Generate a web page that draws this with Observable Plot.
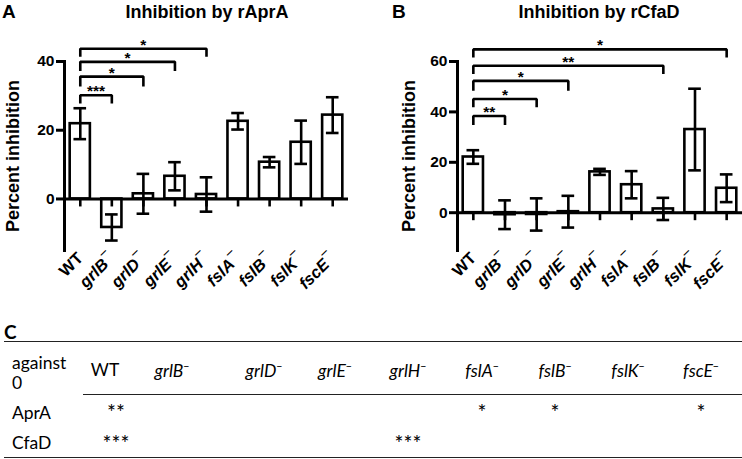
<!DOCTYPE html>
<html>
<head>
<meta charset="utf-8">
<script src="https://cdn.jsdelivr.net/npm/d3@7"></script>
<script src="https://cdn.jsdelivr.net/npm/@observablehq/plot@0.6"></script>
<style>
  html, body { margin: 0; padding: 0; background: #fff; }
  #fig { position: relative; width: 742px; height: 459px; overflow: hidden; font-family: "Liberation Sans", Arial, sans-serif; }
  .abs { position: absolute; white-space: nowrap; }
  .letter { font-weight: bold; font-size: 19px; line-height: 1; }
  .title { font-weight: bold; font-size: 18px; line-height: 1; transform: translateX(-50%); }
  .tbl { font-family: Lato, "Open Sans", sans-serif; font-size: 17.5px; line-height: 1; color: #000; }
  .star { font-size: 21px; }
  .hline { position: absolute; height: 0; border-top: 1.6px solid #222; }
  .it { font-style: italic; }
  .sup { font-size: 0.6em; vertical-align: 0.7em; font-style: normal; }
</style>
</head>
<body>
<div id="fig"></div>
<script>
// ---------- data ----------
const names = ["WT", "grlB", "grlD", "grlE", "grlH", "fslA", "fslB", "fslK", "fscE"];

// Panel A: inhibition by rAprA (mean, error)
const aprMean = [21.9, -8.3, 1.5, 6.6, 1.3, 22.6, 10.7, 16.5, 24.4];
const aprErr  = [4.5, 3.8, 5.8, 4.1, 5.0, 2.4, 1.5, 6.3, 5.2];
const aprTicks = [0, 20, 40];
const aprBrFrom  = [0, 0, 0, 0];
const aprBrTo    = [1, 2, 3, 4];
const aprBrTop   = [30.2, 35.6, 39.9, 43.7];
const aprBrLeg   = [27.8, 32.7, 37.2, 41.4];
const aprBrStars = ["***", "*", "*", "*"];

// Panel B: inhibition by rCfaD (mean, error)
const cfaMean = [22.1, -0.8, -0.7, 0.4, 16.2, 11.1, 1.5, 33.0, 9.7];
const cfaErr  = [2.7, 5.7, 6.4, 6.3, 1.2, 5.4, 4.4, 16.2, 5.5];
const cfaTicks = [0, 20, 40, 60];
const cfaBrFrom  = [0, 0, 0, 0, 0];
const cfaBrTo    = [1, 2, 3, 6, 8];
const cfaBrTop   = [38.4, 45.1, 52.3, 58.3, 64.8];
const cfaBrLeg   = [34.8, 41.8, 48.4, 55.0, 61.6];
const cfaBrStars = ["**", "*", "*", "**", "*"];

// Panel C: significance against 0
const rowLabels = ["AprA", "CfaD"];
const aprSig = ["**", "", "", "", "", "*", "*", "", "*"];
const cfaSig = ["***", "", "", "", "***", "", "", "", ""];

// ---------- drawing ----------
const fig = document.getElementById("fig");

function panel({width, marginLeft, marginRight, yDomain, yTicks, means, errs, brFrom, brTo, brTop, brLeg, brStars, labelDx}) {
  const rows = names.map((n, i) => ({i, name: n, mean: means[i], err: errs[i]}));
  const brackets = brFrom.map((f, k) => ({k, from: f, to: brTo[k], top: brTop[k], leg: brLeg[k], stars: brStars[k]}));
  const bracketPts = brackets.flatMap(b => [
    {k: b.k, x: b.from, y: b.leg}, {k: b.k, x: b.from, y: b.top},
    {k: b.k, x: b.to, y: b.top}, {k: b.k, x: b.to, y: b.leg}
  ]);
  const sw = 2.6;
  const svg = Plot.plot({
    width, height: 310,
    marginLeft, marginRight, marginTop: 61, marginBottom: 60,
    x: {type: "linear", domain: [-0.5, names.length - 0.5]},
    y: {domain: yDomain},
    style: {fontFamily: "'Liberation Sans', Arial, sans-serif", fontWeight: "bold", fontSize: "15px", color: "black", background: "white", overflow: "visible"},
    marks: [
      Plot.rectY(rows, {x1: d => d.i - 0.32, x2: d => d.i + 0.32, y1: d => 0, y2: "mean", fill: "white", stroke: "black", strokeWidth: sw}),
      Plot.ruleX(rows, {x: "i", y1: d => d.mean - d.err, y2: d => d.mean + d.err, stroke: "black", strokeWidth: sw}),
      Plot.ruleY(rows, {y: d => d.mean + d.err, x1: d => d.i - 0.2, x2: d => d.i + 0.2, stroke: "black", strokeWidth: sw}),
      Plot.ruleY(rows, {y: d => d.mean - d.err, x1: d => d.i - 0.2, x2: d => d.i + 0.2, stroke: "black", strokeWidth: sw}),
      Plot.ruleY([0], {stroke: "black", strokeWidth: 3}),
      Plot.ruleX(rows, {x: "i", y1: d => 0, y2: d => 0, insetBottom: -8, stroke: "black", strokeWidth: sw}),
      Plot.frame({anchor: "left", stroke: "black", strokeWidth: 3}),
      Plot.axisY({ticks: yTicks, tickSize: 8, tickPadding: 2, strokeWidth: 3, label: null, fontSize: 15.5}),
      Plot.axisX({ticks: d3.range(names.length), tickFormat: i => names[i], tickSize: 0, tickPadding: 5, tickRotate: -45, label: null, fontSize: 16.5}),
      Plot.line(bracketPts, {x: "x", y: "y", z: "k", stroke: "black", strokeWidth: sw, strokeLinejoin: "miter", strokeLinecap: "butt", curve: "linear"}),
      Plot.text(brackets, {x: d => (d.from + d.to) / 2, y: "top", text: "stars", dy: -4, fontSize: 15.5, fontWeight: "bold"}),
      Plot.text(["Percent inhibition"], {frameAnchor: "left", rotate: -90, dx: labelDx, fontSize: 18, fontWeight: "bold", textAnchor: "middle"})
    ]
  });
  // italic gene names with superscript minus
  svg.querySelectorAll('[aria-label="x-axis tick label"] text').forEach(t => {
    const name = t.textContent;
    if (name === "WT") return;
    t.textContent = "";
    const a = document.createElementNS("http://www.w3.org/2000/svg", "tspan");
    a.setAttribute("font-style", "italic");
    a.textContent = name;
    t.appendChild(a);
    const b = document.createElementNS("http://www.w3.org/2000/svg", "tspan");
    b.setAttribute("dy", "-0.55em");
    b.setAttribute("font-weight", "normal");
    b.setAttribute("font-size", "0.9em");
    b.textContent = "\u2212";
    t.appendChild(b);
  });
  return svg;
}

function place(el, left, top) {
  el.style.position = "absolute";
  el.style.left = left + "px";
  el.style.top = top + "px";
  fig.appendChild(el);
}

place(panel({width: 371, marginLeft: 64, marginRight: 23, yDomain: [-15, 40], yTicks: aprTicks,
  means: aprMean, errs: aprErr, brFrom: aprBrFrom, brTo: aprBrTo, brTop: aprBrTop, brLeg: aprBrLeg, brStars: aprBrStars,
  labelDx: -51}), 0, 0);
place(panel({width: 371, marginLeft: 86, marginRight: 0, yDomain: [-15, 60], yTicks: cfaTicks,
  means: cfaMean, errs: cfaErr, brFrom: cfaBrFrom, brTo: cfaBrTo, brTop: cfaBrTop, brLeg: cfaBrLeg, brStars: cfaBrStars,
  labelDx: -48}), 371, 0);

function div(cls, html, left, top) {
  const d = document.createElement("div");
  d.className = "abs " + cls;
  d.innerHTML = html;
  d.style.left = left + "px";
  d.style.top = top + "px";
  fig.appendChild(d);
  return d;
}

// panel letters and titles
div("letter", "A", 2, 2);
div("letter", "B", 392, 2);
div("title", "Inhibition by rAprA", 207, 3);
div("title", "Inhibition by rCfaD", 599, 3);
div("letter", "C", 4, 322).style.fontFamily = "Lato, sans-serif";

// table
function hline(left, right, top) {
  const d = document.createElement("div");
  d.className = "hline";
  d.style.left = left + "px";
  d.style.width = (right - left) + "px";
  d.style.top = top + "px";
  fig.appendChild(d);
}
hline(4, 742, 341);
hline(83, 742, 394);
hline(4, 742, 457);

const colX = [105, 172, 264, 335, 408, 482, 555, 628, 701];
const starDx = [11, 0, 0, 0, 0, 0, 0, 0, 0];
div("tbl", "against<br>0", 12, 353).style.lineHeight = "20px";
names.forEach((n, i) => {
  const html = n === "WT" ? "WT" : '<span class="it">' + n + '</span><span class="sup">\u2212</span>';
  const d = div("tbl", html, colX[i], 361);
  d.style.transform = "translateX(-50%)";
});
div("tbl", rowLabels[0], 12, 404);
div("tbl", rowLabels[1], 12, 434);
[aprSig, cfaSig].forEach((sig, r) => {
  sig.forEach((s, i) => {
    if (!s) return;
    const d = div("tbl star", s, colX[i] + starDx[i], r === 0 ? 401 : 432);
    d.style.transform = "translateX(-50%)";
  });
});
</script>
</body>
</html>
